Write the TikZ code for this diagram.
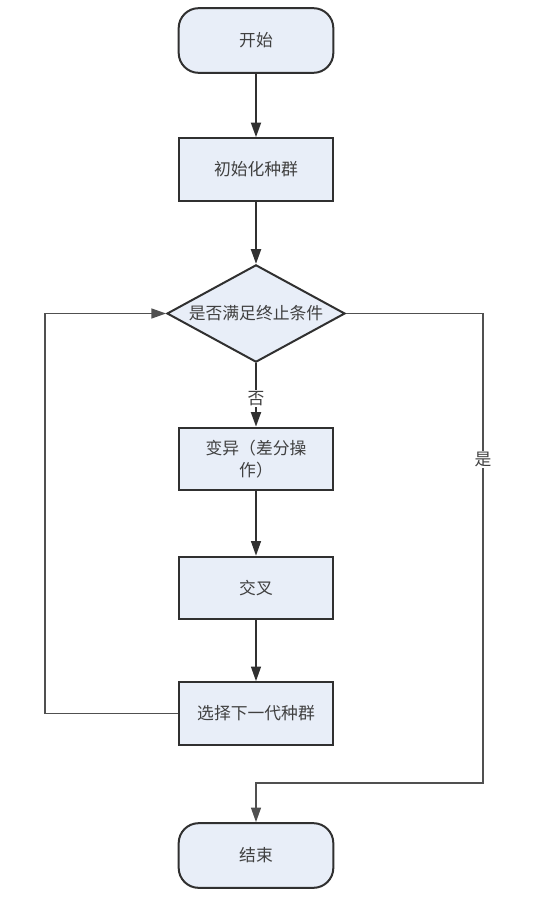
\documentclass[tikz,border=0pt]{standalone}
\usepackage{fontspec}
\setmainfont{Noto Sans CJK SC}
\usetikzlibrary{arrows.meta,shapes.geometric}
\definecolor{boxfill}{HTML}{E8EEF8}
\definecolor{boxline}{HTML}{303030}
\definecolor{txt}{HTML}{404040}
\definecolor{loopline}{HTML}{505050}
\tikzset{
  base/.style={draw=boxline, fill=boxfill, line width=1.5pt, text=txt, font=\fontsize{12.6}{16}\selectfont, inner sep=0pt, align=center},
  term/.style={base, rectangle, rounded corners=15pt, minimum width=116pt, minimum height=48.5pt},
  proc/.style={base, rectangle, minimum width=116pt, minimum height=47pt},
  deci/.style={base, diamond, minimum width=133.5pt, minimum height=73pt, aspect=1.83},
  flow/.style={draw=boxline, line width=1.5pt, -{Triangle[length=11pt,width=7.5pt]}},
  back/.style={draw=loopline, line width=1.1pt, -{Triangle[length=11pt,width=7.5pt]}},
  lab/.style={fill=white, text=txt, font=\fontsize{12.6}{14}\selectfont, inner sep=1pt}
}
\begin{document}
\begin{tikzpicture}[x=0.75pt,y=-0.75pt]
\useasboundingbox (0,0) rectangle (539,906);
\node[term] (start) at (256,40.5) {开始};
\node[proc] (init) at (256,169.5) {初始化种群};
\node[deci] (cond) at (256,313.5) {是否满足终止条件};
\node[proc] (mut) at (256,459) {变异（差分操\\作）};
\node[proc] (cross) at (256,588) {交叉};
\node[proc] (sel) at (256,713.5) {选择下一代种群};
\node[term] (end) at (256,855.5) {结束};
\coordinate (l1) at (45,713.5);
\coordinate (l2) at (45,313.5);
\coordinate (r1) at (483,313.5);
\coordinate (r2) at (483,783);
\coordinate (r3) at (256,783);
\draw[flow] (start) -- (init);
\draw[flow] (init) -- (cond);
\draw[flow] (cond) -- node[lab, pos=0.56] {否} (mut);
\draw[flow, line width=1.1pt] (mut) -- (cross);
\draw[flow, line width=1.1pt] (cross) -- (sel);
\draw[back] (sel.west) -- (l1) -- (l2) -- (cond.west);
\draw[back] (cond.east) -- (r1) -- node[lab, pos=0.311] {是} (r2) -- (r3) -- (end.north);
\end{tikzpicture}
\end{document}
